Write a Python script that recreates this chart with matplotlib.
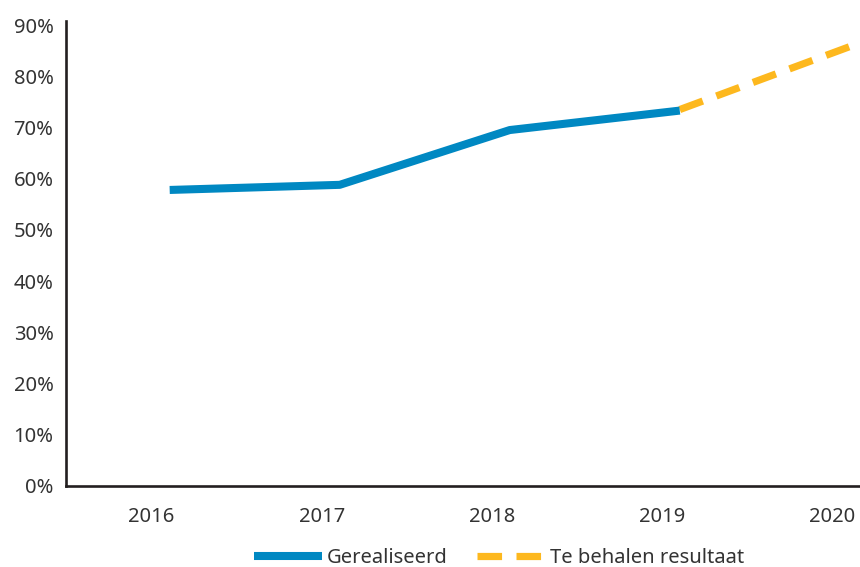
import matplotlib
matplotlib.use("Agg")
import matplotlib.pyplot as plt
import matplotlib.transforms as mtransforms
from matplotlib.ticker import FuncFormatter

# gegevens
jaren = [2016, 2017, 2018, 2019, 2020]
jaren_gerealiseerd = [2016, 2017, 2018, 2019]
gerealiseerd = [57.8, 58.8, 69.5, 73.3]
jaren_doel = [2019, 2020]
te_behalen = [73.5, 85.8]

plt.rcParams['font.family'] = ['Noto Sans', 'DejaVu Sans']
tekstkleur = '#333333'

fig = plt.figure(figsize=(8.6, 5.67), dpi=100)
ax = fig.add_axes([0.0767, 0.143, 0.9233, 0.820])

# doel eerst, zodat de gerealiseerde lijn erover ligt
ax.plot(jaren_doel, te_behalen, color='#FDB81E', linewidth=5.2,
        dashes=(3.4, 2.0), dash_capstyle='butt', solid_capstyle='butt',
        label='Te behalen resultaat', zorder=2)
ax.plot(jaren_gerealiseerd, gerealiseerd, color='#0088C2', linewidth=5.8,
        solid_capstyle='butt', label='Gerealiseerd', zorder=3)

ax.set_xlim(2015.39, 2020.06)
ax.set_ylim(0, 90.8)
ax.set_yticks(range(0, 91, 10))
ax.yaxis.set_major_formatter(FuncFormatter(lambda v, p: f'{int(v)}%'))
ax.set_xticks(jaren)
ax.set_xticklabels([str(j) for j in jaren])

ax.tick_params(axis='both', length=0, labelsize=14.5, colors=tekstkleur)
ax.tick_params(axis='y', pad=9)
ax.tick_params(axis='x', pad=15)

# jaartallen staan iets links van de punten
verschuiving = mtransforms.ScaledTranslation(-18 / 100, 0, fig.dpi_scale_trans)
for lbl in ax.get_xticklabels():
    lbl.set_transform(lbl.get_transform() + verschuiving)

for kant in ['top', 'right']:
    ax.spines[kant].set_visible(False)
for kant in ['left', 'bottom']:
    ax.spines[kant].set_color('#231F20')
    ax.spines[kant].set_linewidth(1.9)

handles, labels = ax.get_legend_handles_labels()
leg = fig.legend(handles[::-1], labels[::-1], loc='center', ncol=2, frameon=False,
                 bbox_to_anchor=(499 / 860, 1 - 558 / 567), fontsize=14.5,
                 handlelength=3.4, handletextpad=0.2, columnspacing=1.5,
                 labelcolor=tekstkleur)

fig.savefig('out.png', dpi=100)
